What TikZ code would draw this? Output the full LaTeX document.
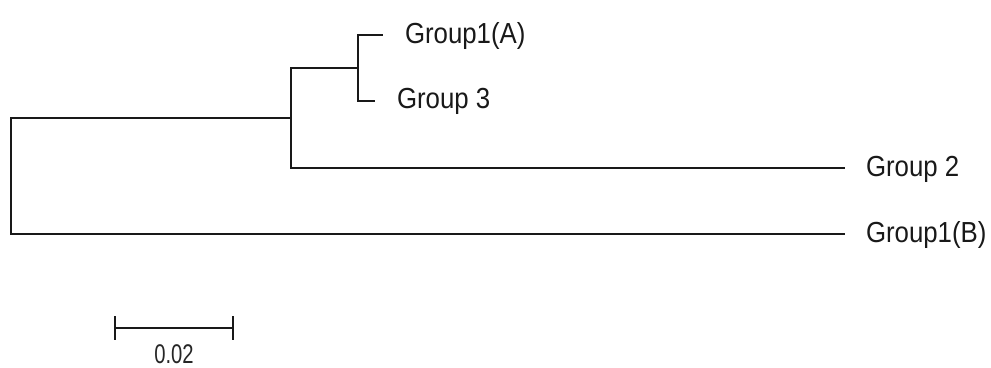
\documentclass[tikz,border=0pt]{standalone}
\usepackage{fontspec}
\setmainfont{Liberation Sans}
\begin{document}
\begin{tikzpicture}[x=1pt,y=-1pt,
  branch/.style={line width=2pt, draw=black!90, line cap=rect, line join=miter},
  lbl/.style={anchor=base west, inner sep=0pt, outer sep=0pt, text=black!90,
    font=\fontsize{29}{34}\selectfont},
  scl/.style={anchor=base, inner sep=0pt, outer sep=0pt, text=black!85,
    font=\fontsize{27}{32}\selectfont}]
\useasboundingbox (0,0) rectangle (991,367);
% internal nodes
\coordinate (rA) at (11,118);
\coordinate (rB) at (11,234);
\coordinate (n1) at (291,118);
\coordinate (n1a) at (291,68);
\coordinate (n1b) at (291,168);
\coordinate (n2) at (358,68);
\coordinate (n2a) at (358,35);
\coordinate (n2b) at (358,101);
% tips
\coordinate (tipA) at (382,35);
\coordinate (tip3) at (374,101);
\coordinate (tip2) at (844,168);
\coordinate (tipB) at (844,234);
% labels
\node[lbl] (labA) at (405,43) {\scalebox{0.89}[1]{Group1(A)}};
\node[lbl] (lab3) at (397,108) {\scalebox{0.89}[1]{Group 3}};
\node[lbl] (lab2) at (866,176) {\scalebox{0.89}[1]{Group 2}};
\node[lbl] (labB) at (866,242) {\scalebox{0.89}[1]{Group1(B)}};
% branches
\draw[branch] (n1) -- (rA) -- (rB) -- (tipB);
\draw[branch] (n2) -- (n1a) -- (n1b) -- (tip2);
\draw[branch] (tipA) -- (n2a) -- (n2b) -- (tip3);
% scale bar
\coordinate (s1) at (115,328);
\coordinate (s2) at (233,328);
\coordinate (s1t) at (115,316);
\coordinate (s1b) at (115,340);
\coordinate (s2t) at (233,316);
\coordinate (s2b) at (233,340);
\draw[branch, line cap=butt] (s1) -- (s2);
\draw[branch, line cap=butt] (s1t) -- (s1b);
\draw[branch, line cap=butt] (s2t) -- (s2b);
\node[scl] (sl) at (174,363) {\scalebox{0.75}[1]{0.02}};
\end{tikzpicture}
\end{document}
